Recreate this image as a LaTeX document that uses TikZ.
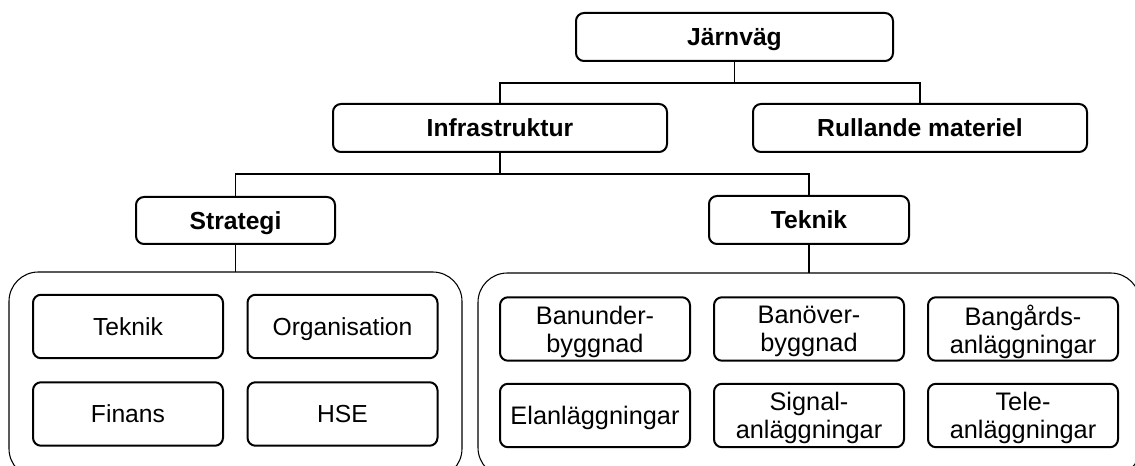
\documentclass[tikz,border=0pt]{standalone}
\usepackage{fontspec}
\setmainfont{Liberation Sans}
\tikzset{
  box/.style={draw, line width=1.5pt, rounded corners=6pt, outer sep=0pt,
    inner sep=0pt, align=center, font=\fontsize{18.5}{21}\selectfont},
  oneline/.style={box, text height=13.25pt, text depth=0pt},
  twoline/.style={box, text depth=0pt, font=\fontsize{19}{21}\selectfont},
  head/.style={oneline, font=\fontsize{18.5}{21}\selectfont\bfseries},
  group/.style={draw, line width=0.8pt, rounded corners=22pt, outer sep=0pt, inner sep=0pt},
  link/.style={line width=1.2pt},
  cell/.style={minimum width=142.5pt, minimum height=47.6pt}
}
\begin{document}
\begin{tikzpicture}[x=0.75pt,y=-0.75pt]
\clip (0,0) rectangle (1135,466);

% hierarchy heads
\node[head, minimum width=237.75pt, minimum height=36pt] (jarn) at (734.5,37) {Järnväg};
\node[head, minimum width=250.5pt, minimum height=36pt] (infra) at (500,128) {Infrastruktur};
\node[head, minimum width=250.5pt, minimum height=36pt] (rull) at (920,128) {Rullande materiel};
\node[head, minimum width=149.25pt, minimum height=35.25pt] (strat) at (235.5,220.5) {Strategi};
\node[head, minimum width=150pt, minimum height=36pt] (tek) at (809,220) {Teknik};

% group frames
\node[group, minimum width=339.75pt, minimum height=154.5pt] (lgrp) at (235.5,375) {};
\node[group, minimum width=496.5pt, minimum height=153pt] (rgrp) at (809,375) {};

% strategy areas
\node[oneline, cell] (s1) at (128,326.5)   {Teknik};
\node[oneline, cell] (s2) at (342.5,326.5) {Organisation};
\node[oneline, cell] (s3) at (128,414)     {Finans};
\node[oneline, cell] (s4) at (342.5,414)   {HSE};

% technical areas
\node[twoline, cell] (t1) at (595,329)    {Banunder-\\byggnad};
\node[twoline, cell] (t2) at (809,329)    {Banöver-\\byggnad};
\node[twoline, cell] (t3) at (1023,329)   {Bangårds-\\anläggningar};
\node[oneline, cell, font=\fontsize{19}{21}\selectfont] (t4) at (595,415.5) {Elanläggningar};
\node[twoline, cell] (t5) at (809,415.5)  {Signal-\\anläggningar};
\node[twoline, cell] (t6) at (1023,415.5) {Tele-\\anläggningar};

% connectors
\coordinate (bus1) at (734.5,83);
\coordinate (bus2) at (500,174);
\draw[link] (jarn.south) -- (bus1);
\draw[link] (infra.north) |- (bus1) -| (rull.north);
\draw[link] (infra.south) -- (bus2);
\draw[link] (strat.north) |- (bus2) -| (tek.north);
\draw[link] (strat.south) -- (lgrp.north);
\draw[link] (tek.south) -- (rgrp.north);
\end{tikzpicture}
\end{document}
